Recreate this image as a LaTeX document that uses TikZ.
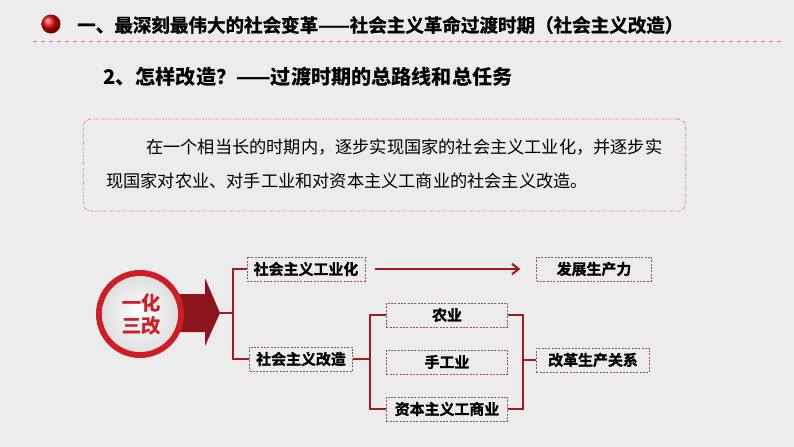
\documentclass[tikz,border=0pt]{standalone}
\usepackage{fontspec}
\usepackage{tikz}
\usetikzlibrary{arrows.meta}
\newfontfamily\cjk{Noto Sans CJK SC}
\newfontfamily\cjkheavy[FakeBold=1.2]{Noto Sans CJK SC Bold}

\definecolor{bgray}{RGB}{236,236,236}
\definecolor{hdred}{RGB}{205,30,40}
\definecolor{lnred}{RGB}{165,25,32}
\definecolor{boxln}{RGB}{140,85,90}
\definecolor{pinkln}{RGB}{215,120,128}

\tikzset{
  gbox/.style={draw=boxln, line width=0.5pt, dash pattern=on 1.5pt off 1pt,
    font=\cjkheavy\fontsize{11.2}{13}\selectfont, inner xsep=5pt,
    minimum height=18pt},
  link/.style={lnred, line width=1.6pt}
}

\begin{document}
\begin{tikzpicture}[x=0.75pt,y=-0.75pt]
    \fill[bgray] (0,0) rectangle (794,447);
    \useasboundingbox (0,0) rectangle (794,447);

    % header
    \shade[ball color=red!90!black] (51,24) circle (9.5);
    \node (T) at (77,25)[anchor=west, font=\cjkheavy\fontsize{13.9}{16}\selectfont, inner sep=0pt]
      {一、最深刻最伟大的社会变革——社会主义革命过渡时期（社会主义改造）};
    \draw[pinkln, dashed, line width=0.6pt] (33,41) -- (785,41);

    \node (H) at (103,77)[anchor=west, font=\cjk\bfseries\fontsize{15.1}{17}\selectfont, inner sep=0pt]
      {2、怎样改造？——过渡时期的总路线和总任务};

    % task box
    \node (task) at (384.5,165)[draw=pinkln, rounded corners=6pt, line width=0.6pt,
      dash pattern=on 2pt off 1.2pt on 0.6pt off 1.2pt, minimum width=452pt, minimum height=69pt]{};
    \node (L1) at (146,147)[anchor=west, font=\cjk\fontsize{12.9}{15}\selectfont, inner sep=0pt]
      {在一个相当长的时期内，逐步实现国家的社会主义工业化，并逐步实};
    \node (L2) at (106,181)[anchor=west, font=\cjk\fontsize{12.9}{15}\selectfont, inner sep=0pt]
      {现国家对农业、对手工业和对资本主义工商业的社会主义改造。};

    % arrow shape and ring
    \fill[lnred!85!black] (165,294) -- (205,294) -- (205,278) -- (220,313) -- (205,346) -- (205,332) -- (165,332) -- cycle;
    \coordinate (tip) at (220,313);
    \fill[hdred] (140,314) circle (44);
    \shade[inner color=white, outer color=gray!25] (140,314) circle (38);
    \node (C) at (141,314)[align=center, text=hdred, font=\cjkheavy\fontsize{14.4}{17}\selectfont]{一化\\三改};

    % boxes
    \node[gbox] (gy) at (306,269){社会主义工业化};
    \node[gbox] (gz) at (301,359){社会主义改造};
    \node[gbox, minimum width=86pt] (fz) at (594,269){发展生产力};
    \node[gbox, minimum width=85pt] (gg) at (593,360){改革生产关系};
    \foreach \n/\y/\t in {ny/315/农业, sg/362/手工业, zb/409/资本主义工商业}{
        \node[gbox, minimum width=91pt] (\n) at (447,\y){\t};
    }

    % connectors
    \coordinate (j1) at (233,313);
    \draw[link] (tip) -- (j1);
    \draw[link] (gy.west) -| (j1) |- (gz.west);
    \draw[link, -{Straight Barb[length=5pt,width=8pt]}, shorten <=7pt, shorten >=12pt] (gy.east) -- (fz.west);
    \coordinate (j2) at (370,359);
    \draw[link] (gz.east) -- (j2);
    \draw[link] (ny.west) -| (j2) |- (zb.west);
    \coordinate (j3) at (523,360);
    \draw[link] (ny.east) -| (j3) |- (zb.east);
    \draw[link] (j3) -- (gg.west);
\end{tikzpicture}
\end{document}
